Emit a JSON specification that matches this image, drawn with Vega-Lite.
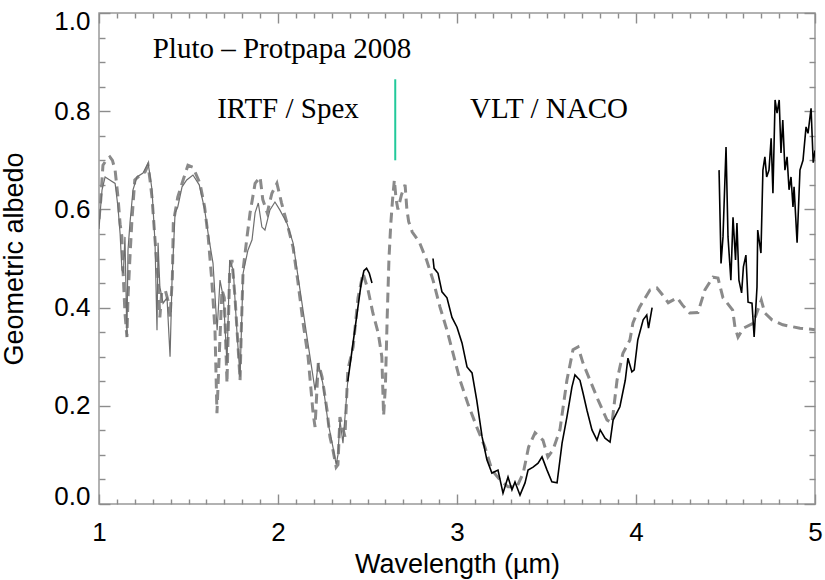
{
  "$schema": "https://vega.github.io/schema/vega-lite/v6.json",
  "width": 716,
  "height": 491,
  "autosize": {"type": "none"},
  "padding": {"left": 99, "top": 13, "right": 10, "bottom": 76},
  "background": "white",
  "config": {
    "view": {"stroke": "#999999", "strokeWidth": 1.5},
    "axis": {
      "domain": false,
      "grid": false,
      "ticks": true,
      "tickColor": "#8c8c8c",
      "tickOpacity": 1,
      "tickWidth": 1.4,
      "labelFont": "Liberation Sans",
      "labelFontSize": 26,
      "labelColor": "#000000",
      "titleFont": "Liberation Sans",
      "titleFontSize": 27,
      "titleFontWeight": "normal",
      "titleColor": "#000000",
      "labelFlush": false,
      "labelOverlap": false
    }
  },
  "resolve": {"axis": {"x": "independent", "y": "independent"}},
  "datasets": {
    "model": [
      {"x": 1.0, "y": 0.58}, {"x": 1.01, "y": 0.62}, {"x": 1.022, "y": 0.69}, {"x": 1.04, "y": 0.7}, {"x": 1.061, "y": 0.707},
      {"x": 1.075, "y": 0.7}, {"x": 1.09, "y": 0.68}, {"x": 1.106, "y": 0.625}, {"x": 1.118, "y": 0.57}, {"x": 1.128, "y": 0.544},
      {"x": 1.134, "y": 0.477}, {"x": 1.145, "y": 0.389}, {"x": 1.156, "y": 0.34}, {"x": 1.162, "y": 0.42}, {"x": 1.173, "y": 0.503},
      {"x": 1.184, "y": 0.578}, {"x": 1.2, "y": 0.66}, {"x": 1.23, "y": 0.67}, {"x": 1.257, "y": 0.676}, {"x": 1.274, "y": 0.69},
      {"x": 1.285, "y": 0.66}, {"x": 1.296, "y": 0.625}, {"x": 1.313, "y": 0.538}, {"x": 1.33, "y": 0.456}, {"x": 1.34, "y": 0.38},
      {"x": 1.35, "y": 0.43}, {"x": 1.37, "y": 0.436}, {"x": 1.385, "y": 0.415}, {"x": 1.397, "y": 0.38}, {"x": 1.41, "y": 0.462},
      {"x": 1.415, "y": 0.572}, {"x": 1.44, "y": 0.625}, {"x": 1.47, "y": 0.66}, {"x": 1.497, "y": 0.69}, {"x": 1.525, "y": 0.686},
      {"x": 1.564, "y": 0.653}, {"x": 1.59, "y": 0.605}, {"x": 1.61, "y": 0.544}, {"x": 1.63, "y": 0.456}, {"x": 1.648, "y": 0.354},
      {"x": 1.659, "y": 0.185}, {"x": 1.67, "y": 0.287}, {"x": 1.687, "y": 0.436}, {"x": 1.7, "y": 0.42}, {"x": 1.715, "y": 0.246},
      {"x": 1.73, "y": 0.477}, {"x": 1.743, "y": 0.497}, {"x": 1.76, "y": 0.42}, {"x": 1.777, "y": 0.32}, {"x": 1.788, "y": 0.252},
      {"x": 1.795, "y": 0.354}, {"x": 1.805, "y": 0.477}, {"x": 1.827, "y": 0.544}, {"x": 1.844, "y": 0.593}, {"x": 1.872, "y": 0.653},
      {"x": 1.9, "y": 0.666}, {"x": 1.915, "y": 0.62}, {"x": 1.94, "y": 0.593}, {"x": 1.966, "y": 0.633}, {"x": 1.994, "y": 0.653},
      {"x": 2.02, "y": 0.613}, {"x": 2.05, "y": 0.572}, {"x": 2.084, "y": 0.523}, {"x": 2.11, "y": 0.456}, {"x": 2.14, "y": 0.369},
      {"x": 2.168, "y": 0.3}, {"x": 2.196, "y": 0.185}, {"x": 2.207, "y": 0.157}, {"x": 2.225, "y": 0.287}, {"x": 2.246, "y": 0.259},
      {"x": 2.274, "y": 0.191}, {"x": 2.29, "y": 0.137}, {"x": 2.307, "y": 0.11}, {"x": 2.325, "y": 0.075}, {"x": 2.335, "y": 0.08},
      {"x": 2.346, "y": 0.177}, {"x": 2.374, "y": 0.137}, {"x": 2.39, "y": 0.273}, {"x": 2.42, "y": 0.32}, {"x": 2.447, "y": 0.42},
      {"x": 2.475, "y": 0.47}, {"x": 2.503, "y": 0.436}, {"x": 2.53, "y": 0.389}, {"x": 2.56, "y": 0.348}, {"x": 2.58, "y": 0.3},
      {"x": 2.59, "y": 0.18}, {"x": 2.6, "y": 0.24}, {"x": 2.61, "y": 0.38}, {"x": 2.62, "y": 0.5}, {"x": 2.63, "y": 0.57},
      {"x": 2.64, "y": 0.62}, {"x": 2.65, "y": 0.66}, {"x": 2.66, "y": 0.62}, {"x": 2.67, "y": 0.6}, {"x": 2.69, "y": 0.63},
      {"x": 2.71, "y": 0.65}, {"x": 2.72, "y": 0.6}, {"x": 2.73, "y": 0.575}, {"x": 2.75, "y": 0.554}, {"x": 2.79, "y": 0.533},
      {"x": 2.83, "y": 0.497}, {"x": 2.866, "y": 0.456}, {"x": 2.905, "y": 0.401}, {"x": 2.944, "y": 0.354}, {"x": 2.978, "y": 0.307},
      {"x": 3.017, "y": 0.252}, {"x": 3.06, "y": 0.205}, {"x": 3.11, "y": 0.157}, {"x": 3.156, "y": 0.116}, {"x": 3.195, "y": 0.069},
      {"x": 3.24, "y": 0.049}, {"x": 3.285, "y": 0.035}, {"x": 3.335, "y": 0.035}, {"x": 3.37, "y": 0.063}, {"x": 3.4, "y": 0.116},
      {"x": 3.436, "y": 0.145}, {"x": 3.48, "y": 0.13}, {"x": 3.508, "y": 0.096}, {"x": 3.536, "y": 0.11}, {"x": 3.575, "y": 0.151},
      {"x": 3.614, "y": 0.252}, {"x": 3.648, "y": 0.314}, {"x": 3.676, "y": 0.32}, {"x": 3.704, "y": 0.287}, {"x": 3.743, "y": 0.252},
      {"x": 3.788, "y": 0.212}, {"x": 3.838, "y": 0.171}, {"x": 3.866, "y": 0.165}, {"x": 3.894, "y": 0.252}, {"x": 3.927, "y": 0.307},
      {"x": 3.966, "y": 0.334}, {"x": 3.983, "y": 0.369}, {"x": 4.02, "y": 0.401}, {"x": 4.078, "y": 0.436}, {"x": 4.117, "y": 0.44},
      {"x": 4.15, "y": 0.425}, {"x": 4.18, "y": 0.41}, {"x": 4.23, "y": 0.42}, {"x": 4.26, "y": 0.405}, {"x": 4.3, "y": 0.389},
      {"x": 4.346, "y": 0.39}, {"x": 4.385, "y": 0.436}, {"x": 4.43, "y": 0.462}, {"x": 4.458, "y": 0.46}, {"x": 4.486, "y": 0.42},
      {"x": 4.54, "y": 0.395}, {"x": 4.553, "y": 0.36}, {"x": 4.57, "y": 0.34}, {"x": 4.6, "y": 0.358}, {"x": 4.654, "y": 0.368},
      {"x": 4.7, "y": 0.415}, {"x": 4.72, "y": 0.389}, {"x": 4.76, "y": 0.375}, {"x": 4.82, "y": 0.365}, {"x": 4.916, "y": 0.358},
      {"x": 5.0, "y": 0.355}
    ],
    "irtf": [
      {"x": 1.0, "y": 0.56}, {"x": 1.008, "y": 0.6}, {"x": 1.017, "y": 0.64}, {"x": 1.034, "y": 0.666}, {"x": 1.06, "y": 0.66},
      {"x": 1.09, "y": 0.653}, {"x": 1.106, "y": 0.605}, {"x": 1.118, "y": 0.55}, {"x": 1.128, "y": 0.477}, {"x": 1.136, "y": 0.47},
      {"x": 1.145, "y": 0.544}, {"x": 1.156, "y": 0.34}, {"x": 1.162, "y": 0.517}, {"x": 1.173, "y": 0.572}, {"x": 1.19, "y": 0.64},
      {"x": 1.212, "y": 0.666}, {"x": 1.246, "y": 0.674}, {"x": 1.274, "y": 0.694}, {"x": 1.285, "y": 0.67}, {"x": 1.296, "y": 0.64},
      {"x": 1.313, "y": 0.532}, {"x": 1.324, "y": 0.354}, {"x": 1.33, "y": 0.532}, {"x": 1.34, "y": 0.442}, {"x": 1.358, "y": 0.409},
      {"x": 1.38, "y": 0.42}, {"x": 1.397, "y": 0.3}, {"x": 1.408, "y": 0.456}, {"x": 1.425, "y": 0.593}, {"x": 1.44, "y": 0.605},
      {"x": 1.464, "y": 0.646}, {"x": 1.49, "y": 0.66}, {"x": 1.525, "y": 0.67}, {"x": 1.56, "y": 0.65}, {"x": 1.59, "y": 0.6},
      {"x": 1.61, "y": 0.55}, {"x": 1.637, "y": 0.49}, {"x": 1.66, "y": 0.354}, {"x": 1.676, "y": 0.456}, {"x": 1.695, "y": 0.42},
      {"x": 1.715, "y": 0.287}, {"x": 1.73, "y": 0.497}, {"x": 1.75, "y": 0.477}, {"x": 1.77, "y": 0.354}, {"x": 1.788, "y": 0.259},
      {"x": 1.805, "y": 0.47}, {"x": 1.832, "y": 0.517}, {"x": 1.855, "y": 0.538}, {"x": 1.872, "y": 0.593}, {"x": 1.89, "y": 0.613},
      {"x": 1.91, "y": 0.564}, {"x": 1.927, "y": 0.558}, {"x": 1.955, "y": 0.599}, {"x": 1.983, "y": 0.615}, {"x": 2.01, "y": 0.599},
      {"x": 2.05, "y": 0.572}, {"x": 2.084, "y": 0.532}, {"x": 2.123, "y": 0.436}, {"x": 2.162, "y": 0.34}, {"x": 2.19, "y": 0.273},
      {"x": 2.207, "y": 0.232}, {"x": 2.225, "y": 0.287}, {"x": 2.25, "y": 0.246}, {"x": 2.28, "y": 0.165}, {"x": 2.307, "y": 0.116},
      {"x": 2.325, "y": 0.08}, {"x": 2.335, "y": 0.1}, {"x": 2.346, "y": 0.171}, {"x": 2.363, "y": 0.124}, {"x": 2.39, "y": 0.252}
    ],
    "naco": [
      {"seg": "a", "x": 2.39, "y": 0.25}, {"seg": "a", "x": 2.405, "y": 0.29}, {"seg": "a", "x": 2.42, "y": 0.33}, {"seg": "a", "x": 2.435, "y": 0.37},
      {"seg": "a", "x": 2.45, "y": 0.41}, {"seg": "a", "x": 2.465, "y": 0.45}, {"seg": "a", "x": 2.48, "y": 0.475}, {"seg": "a", "x": 2.495, "y": 0.48},
      {"seg": "a", "x": 2.51, "y": 0.47}, {"seg": "a", "x": 2.525, "y": 0.45},
      {"seg": "b", "x": 2.866, "y": 0.5}, {"seg": "b", "x": 2.872, "y": 0.48}, {"seg": "b", "x": 2.894, "y": 0.47}, {"seg": "b", "x": 2.916, "y": 0.432},
      {"seg": "b", "x": 2.944, "y": 0.42}, {"seg": "b", "x": 2.972, "y": 0.38}, {"seg": "b", "x": 3.0, "y": 0.36}, {"seg": "b", "x": 3.028, "y": 0.328},
      {"seg": "b", "x": 3.056, "y": 0.279}, {"seg": "b", "x": 3.084, "y": 0.267}, {"seg": "b", "x": 3.11, "y": 0.212}, {"seg": "b", "x": 3.14, "y": 0.137},
      {"seg": "b", "x": 3.167, "y": 0.09}, {"seg": "b", "x": 3.195, "y": 0.063}, {"seg": "b", "x": 3.229, "y": 0.069}, {"seg": "b", "x": 3.257, "y": 0.022},
      {"seg": "b", "x": 3.285, "y": 0.055}, {"seg": "b", "x": 3.307, "y": 0.029}, {"seg": "b", "x": 3.324, "y": 0.045}, {"seg": "b", "x": 3.352, "y": 0.018},
      {"seg": "b", "x": 3.38, "y": 0.043}, {"seg": "b", "x": 3.397, "y": 0.069}, {"seg": "b", "x": 3.425, "y": 0.075}, {"seg": "b", "x": 3.453, "y": 0.083},
      {"seg": "b", "x": 3.475, "y": 0.096}, {"seg": "b", "x": 3.503, "y": 0.069}, {"seg": "b", "x": 3.53, "y": 0.045}, {"seg": "b", "x": 3.559, "y": 0.043},
      {"seg": "b", "x": 3.587, "y": 0.124}, {"seg": "b", "x": 3.614, "y": 0.177}, {"seg": "b", "x": 3.642, "y": 0.238}, {"seg": "b", "x": 3.659, "y": 0.263},
      {"seg": "b", "x": 3.687, "y": 0.252}, {"seg": "b", "x": 3.704, "y": 0.226}, {"seg": "b", "x": 3.726, "y": 0.191}, {"seg": "b", "x": 3.754, "y": 0.151},
      {"seg": "b", "x": 3.782, "y": 0.13}, {"seg": "b", "x": 3.8, "y": 0.151}, {"seg": "b", "x": 3.827, "y": 0.134}, {"seg": "b", "x": 3.855, "y": 0.126},
      {"seg": "b", "x": 3.872, "y": 0.171}, {"seg": "b", "x": 3.91, "y": 0.198}, {"seg": "b", "x": 3.94, "y": 0.252}, {"seg": "b", "x": 3.955, "y": 0.297},
      {"seg": "b", "x": 3.977, "y": 0.269}, {"seg": "b", "x": 3.99, "y": 0.273}, {"seg": "b", "x": 4.01, "y": 0.334}, {"seg": "b", "x": 4.04, "y": 0.375},
      {"seg": "b", "x": 4.06, "y": 0.385}, {"seg": "b", "x": 4.07, "y": 0.358}, {"seg": "b", "x": 4.09, "y": 0.4},
      {"seg": "c", "x": 4.464, "y": 0.68}, {"seg": "c", "x": 4.475, "y": 0.49}, {"seg": "c", "x": 4.486, "y": 0.544}, {"seg": "c", "x": 4.503, "y": 0.727},
      {"seg": "c", "x": 4.514, "y": 0.544}, {"seg": "c", "x": 4.53, "y": 0.456}, {"seg": "c", "x": 4.542, "y": 0.584}, {"seg": "c", "x": 4.556, "y": 0.497},
      {"seg": "c", "x": 4.564, "y": 0.572}, {"seg": "c", "x": 4.575, "y": 0.456}, {"seg": "c", "x": 4.59, "y": 0.43}, {"seg": "c", "x": 4.6, "y": 0.483},
      {"seg": "c", "x": 4.614, "y": 0.507}, {"seg": "c", "x": 4.626, "y": 0.411}, {"seg": "c", "x": 4.648, "y": 0.409}, {"seg": "c", "x": 4.66, "y": 0.34},
      {"seg": "c", "x": 4.676, "y": 0.442}, {"seg": "c", "x": 4.68, "y": 0.558}, {"seg": "c", "x": 4.698, "y": 0.511}, {"seg": "c", "x": 4.709, "y": 0.68},
      {"seg": "c", "x": 4.72, "y": 0.707}, {"seg": "c", "x": 4.73, "y": 0.666}, {"seg": "c", "x": 4.743, "y": 0.68}, {"seg": "c", "x": 4.755, "y": 0.745},
      {"seg": "c", "x": 4.765, "y": 0.633}, {"seg": "c", "x": 4.777, "y": 0.823}, {"seg": "c", "x": 4.788, "y": 0.796}, {"seg": "c", "x": 4.8, "y": 0.823},
      {"seg": "c", "x": 4.81, "y": 0.715}, {"seg": "c", "x": 4.82, "y": 0.782}, {"seg": "c", "x": 4.832, "y": 0.68}, {"seg": "c", "x": 4.844, "y": 0.707},
      {"seg": "c", "x": 4.855, "y": 0.64}, {"seg": "c", "x": 4.866, "y": 0.666}, {"seg": "c", "x": 4.877, "y": 0.605}, {"seg": "c", "x": 4.883, "y": 0.646},
      {"seg": "c", "x": 4.9, "y": 0.532}, {"seg": "c", "x": 4.916, "y": 0.68}, {"seg": "c", "x": 4.933, "y": 0.7}, {"seg": "c", "x": 4.95, "y": 0.768},
      {"seg": "c", "x": 4.961, "y": 0.755}, {"seg": "c", "x": 4.978, "y": 0.806}, {"seg": "c", "x": 4.99, "y": 0.695}, {"seg": "c", "x": 5.0, "y": 0.72}
    ],
    "notes": [
      {"x": 1.3, "y": 0.908, "label": "Pluto – Protpapa 2008"},
      {"x": 1.66, "y": 0.786, "label": "IRTF / Spex"},
      {"x": 3.073, "y": 0.786, "label": "VLT / NACO"}
    ],
    "marker": [
      {"x": 2.655, "y": 0.7, "y2": 0.865}
    ]
  },
  "layer": [
    {
      "data": {"name": "model"},
      "mark": {"type": "line", "color": "#8a8a8a", "strokeWidth": 3, "strokeDash": [10, 6], "clip": true},
      "encoding": {
        "x": {"field": "x", "type": "quantitative", "scale": {"domain": [1, 5], "nice": false, "zero": false},
          "axis": {"orient": "bottom", "values": [1, 1.1, 1.2, 1.3, 1.4, 1.5, 1.6, 1.7, 1.8, 1.9, 2, 2.1, 2.2, 2.3, 2.4, 2.5, 2.6, 2.7, 2.8, 2.9, 3, 3.1, 3.2, 3.3, 3.4, 3.5, 3.6, 3.7, 3.8, 3.9, 4, 4.1, 4.2, 4.3, 4.4, 4.5, 4.6, 4.7, 4.8, 4.9, 5],
            "format": ".1f",
            "labelOverlap": false,
            "labelBound": false,
            "labelExpr": "abs(datum.value - round(datum.value)) < 0.000001 ? format(datum.value, 'd') : ''",
            "tickSize": {"condition": {"test": "abs(datum.value - round(datum.value)) < 0.000001", "value": -10}, "value": -5},
            "labelPadding": 25, "title": "Wavelength (µm)", "titlePadding": 1}},
        "y": {"field": "y", "type": "quantitative", "scale": {"domain": [0, 1], "nice": false, "zero": false},
          "axis": {"orient": "left", "values": [0, 0.05, 0.1, 0.15, 0.2, 0.25, 0.3, 0.35, 0.4, 0.45, 0.5, 0.55, 0.6, 0.65, 0.7, 0.75, 0.8, 0.85, 0.9, 0.95, 1.0],
            "format": ".1f",
            "labelOverlap": false,
            "labelExpr": "abs(datum.value * 5 - round(datum.value * 5)) < 0.000001 ? datum.label : ''",
            "tickSize": {"condition": {"test": "abs(datum.value * 5 - round(datum.value * 5)) < 0.000001", "value": -11}, "value": -6},
            "labelPadding": 20, "labelFlush": true, "labelFlushOffset": 5, "title": "Geometric albedo", "titlePadding": 25}}
      }
    },
    {
      "data": {"name": "irtf"},
      "mark": {"type": "line", "color": "#6e6e6e", "strokeWidth": 1.2, "clip": true},
      "encoding": {
        "x": {"field": "x", "type": "quantitative", "scale": {"domain": [1, 5], "nice": false, "zero": false},
          "axis": {"orient": "top", "values": [1, 1.1, 1.2, 1.3, 1.4, 1.5, 1.6, 1.7, 1.8, 1.9, 2, 2.1, 2.2, 2.3, 2.4, 2.5, 2.6, 2.7, 2.8, 2.9, 3, 3.1, 3.2, 3.3, 3.4, 3.5, 3.6, 3.7, 3.8, 3.9, 4, 4.1, 4.2, 4.3, 4.4, 4.5, 4.6, 4.7, 4.8, 4.9, 5],
            "tickSize": {"condition": {"test": "abs(datum.value - round(datum.value)) < 0.000001", "value": -10}, "value": -5},
            "labels": false, "title": null}},
        "y": {"field": "y", "type": "quantitative", "scale": {"domain": [0, 1], "nice": false, "zero": false},
          "axis": {"orient": "right", "values": [0, 0.05, 0.1, 0.15, 0.2, 0.25, 0.3, 0.35, 0.4, 0.45, 0.5, 0.55, 0.6, 0.65, 0.7, 0.75, 0.8, 0.85, 0.9, 0.95, 1.0],
            "tickSize": {"condition": {"test": "abs(datum.value * 5 - round(datum.value * 5)) < 0.000001", "value": -11}, "value": -6},
            "labels": false, "title": null}}
      }
    },
    {
      "data": {"name": "naco"},
      "mark": {"type": "line", "color": "#000000", "strokeWidth": 1.6, "clip": true},
      "encoding": {
        "detail": {"field": "seg", "type": "nominal"},
        "x": {"field": "x", "type": "quantitative", "scale": {"domain": [1, 5], "nice": false, "zero": false}, "axis": null},
        "y": {"field": "y", "type": "quantitative", "scale": {"domain": [0, 1], "nice": false, "zero": false}, "axis": null}
      }
    },
    {
      "data": {"name": "marker"},
      "mark": {"type": "rule", "color": "#22c99a", "strokeWidth": 2},
      "encoding": {
        "x": {"field": "x", "type": "quantitative", "scale": {"domain": [1, 5], "nice": false, "zero": false}, "axis": null},
        "y": {"field": "y", "type": "quantitative", "scale": {"domain": [0, 1], "nice": false, "zero": false}, "axis": null},
        "y2": {"field": "y2"}
      }
    },
    {
      "data": {"name": "notes"},
      "mark": {"type": "text", "font": "Liberation Serif", "fontSize": 29, "align": "left", "baseline": "alphabetic", "color": "#000000"},
      "encoding": {
        "x": {"field": "x", "type": "quantitative", "scale": {"domain": [1, 5], "nice": false, "zero": false}, "axis": null},
        "y": {"field": "y", "type": "quantitative", "scale": {"domain": [0, 1], "nice": false, "zero": false}, "axis": null},
        "text": {"field": "label", "type": "nominal"}
      }
    }
  ]
}
